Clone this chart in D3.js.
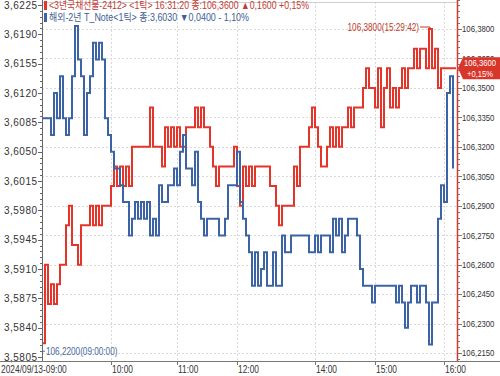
<!DOCTYPE html>
<html lang="ko">
<head>
  <meta charset="utf-8">
  <title>3년국채선물 / 해외-2년 T_Note</title>
  <script src="https://cdn.jsdelivr.net/npm/d3@7"></script>
  <style>
    body { margin: 0; background: #fff; overflow: hidden; }
    svg text { font-family: "Liberation Sans", "Noto Sans CJK KR", sans-serif; font-size: 10px; }
    .axis-text { fill: #333; }
    .grid { stroke: #d9d9d9; stroke-dasharray: 2,2; stroke-width: 1; }
  </style>
</head>
<body>
<div id="chart"></div>
<script>
// 3년국채선물-2412 (오른쪽 축), 1틱 종가 흐름
const redPrice = [
  106.22,106.26,106.24,106.25,106.24,106.25,106.26,106.26,106.28,106.29,
  106.27,106.27,106.26,106.28,106.28,106.28,106.29,106.28,106.29,106.28,
  106.29,106.29,106.29,106.30,106.31,106.30,106.31,106.30,106.31,106.30,
  106.32,106.32,106.32,106.32,106.32,106.32,106.34,106.32,106.32,106.32,
  106.31,106.33,106.32,106.33,106.32,106.33,106.32,106.32,106.33,106.33,
  106.33,106.34,106.33,106.34,106.33,106.33,106.32,106.31,106.30,106.31,
  106.31,106.31,106.31,106.31,106.32,106.30,106.29,106.31,106.30,106.31,
  106.30,106.31,106.31,106.31,106.31,106.31,106.30,106.30,106.29,106.28,
  106.29,106.29,106.29,106.29,106.31,106.30,106.32,106.32,106.32,106.33,
  106.34,106.33,106.32,106.31,106.31,106.32,106.33,106.32,106.33,106.32,
  106.33,106.33,106.34,106.33,106.34,106.34,106.34,106.35,106.36,106.35,
  106.35,106.34,106.36,106.33,106.35,106.36,106.34,106.35,106.34,106.35,
  106.36,106.35,106.36,106.36,106.37,106.36,106.37,106.37,106.36,106.38,
  106.36,106.37,106.35,106.36,106.36,106.36,106.36,106.36
];

// 해외-2년 T_Note (왼쪽 축)
const blueYield = [
  3.609,3.609,3.609,3.607,3.612,3.609,3.614,3.609,3.607,3.609,
  3.614,3.620,3.616,3.614,3.607,3.612,3.614,3.618,3.616,3.618,
  3.616,3.609,3.607,3.605,3.603,3.603,3.601,3.599,3.599,3.595,
  3.597,3.599,3.597,3.599,3.597,3.599,3.595,3.597,3.595,3.601,
  3.599,3.599,3.601,3.601,3.603,3.601,3.605,3.607,3.603,3.603,
  3.601,3.605,3.599,3.597,3.595,3.597,3.597,3.597,3.597,3.595,
  3.595,3.597,3.601,3.601,3.601,3.605,3.599,3.597,3.595,3.593,
  3.589,3.593,3.589,3.591,3.593,3.589,3.589,3.593,3.589,3.589,
  3.595,3.593,3.593,3.595,3.595,3.595,3.595,3.595,3.595,3.593,
  3.593,3.595,3.593,3.595,3.595,3.595,3.593,3.597,3.595,3.597,
  3.593,3.595,3.597,3.597,3.597,3.595,3.591,3.589,3.589,3.589,
  3.587,3.589,3.589,3.589,3.589,3.589,3.589,3.589,3.587,3.589,
  3.587,3.584,3.587,3.589,3.589,3.587,3.589,3.589,3.587,3.582,
  3.587,3.587,3.597,3.601,3.599,3.612,3.614,3.603
];

// x축 라벨과 해당 틱 순번
const xTickLabels = ["2024/09/13-09:00", "10:00", "11:00", "12:00", "14:00", "15:00", "16:00"];
const xTickIndex = [0, 23, 45, 65, 91, 111, 134];

// 축 눈금
const leftTicks = [3.5805, 3.5840, 3.5875, 3.5910, 3.5945, 3.5980, 3.6015, 3.6050, 3.6085, 3.6120, 3.6155, 3.6190, 3.6225];
const rightTicks = [106.215, 106.230, 106.245, 106.260, 106.275, 106.290, 106.305, 106.320, 106.335, 106.350, 106.365, 106.380];

// 범례 / 주석 텍스트
const legendTexts = [
  "<3년국채선물-2412> <1틱> 16:31:20 종:106,3600 ▲0,1600 +0,15%",
  "해외-2년 T_Note<1틱> 종:3,6030 ▼0,0400 - 1,10%"
];
const maxNote = { index: 129, value: 106.38, text: "106,3800(15:29:42)" };
const minNote = { index: 0, value: 106.22, text: "106,2200(09:00:00)" };
const lastChange = "+0,15%";

const W = 500, H = 376;
const plot = { left: 42, right: 457, top: 2, bottom: 361 };
const RED = "#e5352a", BLUE = "#3b63a6";

const svg = d3.select("#chart").append("svg").attr("width", W).attr("height", H);

const x = d3.scaleLinear().domain([0, 138]).range([plot.left, plot.right - 1]);
const yL = d3.scaleLinear().domain([3.5805, 3.6225]).range([357, 5]);
const yR = d3.scaleLinear().domain([106.215, 106.38]).range([353, 29]);

const fmt4 = v => d3.format(".4f")(v).replace(".", ",");

// 원본의 좁은 글꼴 흉내: 가로로 k배 눌러서 그림
function narrow(sel, k) {
  sel.each(function () {
    const t = d3.select(this);
    const tx = +t.attr("x"), ty = +t.attr("y");
    t.attr("x", 0).attr("y", 0).attr("transform", `translate(${tx},${ty}) scale(${k},1)`);
  });
}

// 격자
svg.append("g").selectAll("line").data(rightTicks).enter().append("line")
  .attr("class", "grid")
  .attr("x1", plot.left).attr("x2", plot.right)
  .attr("y1", d => Math.round(yR(d)) + 0.5).attr("y2", d => Math.round(yR(d)) + 0.5);
svg.append("g").selectAll("line").data(xTickIndex.slice(1)).enter().append("line")
  .attr("class", "grid")
  .attr("x1", d => Math.round(x(d)) + 0.5).attr("x2", d => Math.round(x(d)) + 0.5)
  .attr("y1", plot.top).attr("y2", plot.bottom);

// 상단 테두리
svg.append("line").attr("x1", plot.left).attr("x2", plot.right)
  .attr("y1", plot.top + 0.5).attr("y2", plot.top + 0.5).attr("stroke", "#cfcfcf");

// 시리즈
svg.append("clipPath").attr("id", "clip").append("rect")
  .attr("x", plot.left).attr("y", plot.top).attr("width", plot.right - plot.left).attr("height", plot.bottom - plot.top);

const redPts = redPrice.map((v, i) => [i, v]);
redPts.push([138, redPrice[redPrice.length - 1]]);
const bluePts = blueYield.map((v, i) => [i, v]);

const redLine = d3.line().x(d => x(d[0])).y(d => yR(d[1])).curve(d3.curveStepAfter);
const blueLine = d3.line().x(d => x(d[0])).y(d => yL(d[1])).curve(d3.curveStepAfter);

const series = svg.append("g").attr("clip-path", "url(#clip)");
series.append("path").attr("d", redLine(redPts))
  .attr("fill", "none").attr("stroke", RED).attr("stroke-width", 2);
series.append("path").attr("d", blueLine(bluePts))
  .attr("fill", "none").attr("stroke", BLUE).attr("stroke-width", 2);

// 왼쪽 축
const leftAxis = svg.append("g");
leftAxis.append("line").attr("x1", plot.left + 0.5).attr("x2", plot.left + 0.5)
  .attr("y1", 0).attr("y2", plot.bottom).attr("stroke", "#666");
leftAxis.selectAll(".minor").data(d3.range(0, 61)).enter().append("line")
  .attr("x1", plot.left - 2).attr("x2", plot.left)
  .attr("y1", d => Math.round(yL(3.5805 + d * 0.0007)) + 0.5)
  .attr("y2", d => Math.round(yL(3.5805 + d * 0.0007)) + 0.5)
  .attr("stroke", "#666");
leftAxis.selectAll(".major").data(leftTicks).enter().append("line")
  .attr("x1", plot.left - 4).attr("x2", plot.left)
  .attr("y1", d => Math.round(yL(d)) + 0.5).attr("y2", d => Math.round(yL(d)) + 0.5)
  .attr("stroke", "#666");
leftAxis.selectAll("text").data(leftTicks).enter().append("text")
  .attr("class", "axis-text")
  .attr("x", plot.left - 5).attr("y", d => Math.max(yL(d), 5.5)).attr("dy", "0.35em")
  .attr("text-anchor", "end")
  .attr("textLength", 33).attr("lengthAdjust", "spacing")
  .text(fmt4);

// 오른쪽 축 (빨강)
const rightAxis = svg.append("g");
rightAxis.append("line").attr("x1", plot.right + 0.5).attr("x2", plot.right + 0.5)
  .attr("y1", 0).attr("y2", plot.bottom).attr("stroke", "#d23b33").attr("stroke-width", 1.5);
rightAxis.selectAll(".minor").data(d3.range(-1, 61)).enter().append("line")
  .attr("x1", plot.right + 1).attr("x2", plot.right + 3)
  .attr("y1", d => Math.round(yR(106.215 + d * 0.003)) + 0.5)
  .attr("y2", d => Math.round(yR(106.215 + d * 0.003)) + 0.5)
  .attr("stroke", "#777");
rightAxis.selectAll(".major").data(rightTicks).enter().append("line")
  .attr("x1", plot.right + 1).attr("x2", plot.right + 5)
  .attr("y1", d => Math.round(yR(d)) + 0.5).attr("y2", d => Math.round(yR(d)) + 0.5)
  .attr("stroke", "#777");
rightAxis.selectAll("text").data(rightTicks).enter().append("text")
  .attr("class", "axis-text")
  .attr("x", plot.right + 5).attr("y", d => yR(d)).attr("dy", "0.35em")
  .style("font-size", "9.5px")
  .text(fmt4)
  .call(narrow, 0.82);

// 현재가 표시
const lastY = yR(redPrice[redPrice.length - 1]);
svg.append("path")
  .attr("d", `M${plot.right + 1},${lastY} L${plot.right + 6},${lastY - 11} L${W},${lastY - 11} L${W},${lastY + 11} L${plot.right + 6},${lastY + 11} Z`)
  .attr("fill", "#d8352b");
svg.append("text").attr("x", 480).attr("y", lastY - 5).attr("dy", "0.35em")
  .attr("text-anchor", "middle").attr("fill", "#fff").style("font-size", "9px")
  .text(fmt4(redPrice[redPrice.length - 1])).call(narrow, 0.85);
svg.append("text").attr("x", 480).attr("y", lastY + 5.5).attr("dy", "0.35em")
  .attr("text-anchor", "middle").attr("fill", "#fff").style("font-size", "9px")
  .text(lastChange).call(narrow, 0.85);

// x축
const xAxis = svg.append("g");
xAxis.append("line").attr("x1", 0).attr("x2", W)
  .attr("y1", plot.bottom + 0.5).attr("y2", plot.bottom + 0.5).attr("stroke", "#777");
xAxis.selectAll(".tick").data(xTickIndex.slice(1)).enter().append("line")
  .attr("x1", d => Math.round(x(d)) + 0.5).attr("x2", d => Math.round(x(d)) + 0.5)
  .attr("y1", plot.bottom).attr("y2", plot.bottom + 4).attr("stroke", "#777");
xAxis.selectAll("text").data(xTickIndex).enter().append("text")
  .attr("class", "axis-text")
  .attr("x", (d, i) => i === 0 ? 1 : Math.round(x(d)) + 1)
  .attr("y", 373)
  .text((d, i) => xTickLabels[i])
  .call(narrow, 0.84);

// 최고/최저 주석
const mx = x(maxNote.index) + 1, my = yR(maxNote.value) - 2;
svg.append("path").attr("d", `M${mx - 10},${my} L${mx},${my} L${mx},${my + 3}`)
  .attr("fill", "none").attr("stroke", "#c0392b");
svg.append("text").attr("x", mx - 11).attr("y", my).attr("dy", "0.35em")
  .attr("text-anchor", "end").attr("fill", "#c0392b").text(maxNote.text)
  .call(narrow, 0.82);

const nx = x(minNote.index), ny = yR(minNote.value) + 8;
svg.append("line").attr("x1", nx).attr("x2", nx + 3).attr("y1", ny).attr("y2", ny)
  .attr("stroke", "#4a6aa0");
svg.append("text").attr("x", nx + 4).attr("y", ny).attr("dy", "0.35em")
  .attr("fill", "#4a6aa0").text(minNote.text)
  .call(narrow, 0.82);

// 범례
const legendColors = ["#c43a33", "#3d5e96"];
const legendWidths = [260, 200];
const legend = svg.append("g");
legend.selectAll("rect").data(legendTexts).enter().append("rect")
  .attr("x", 44).attr("y", (d, i) => 1 + i * 12).attr("width", 3).attr("height", 9)
  .attr("fill", (d, i) => i === 0 ? RED : BLUE);
legend.selectAll("text").data(legendTexts).enter().append("text")
  .attr("x", 49).attr("y", (d, i) => 5.5 + i * 12).attr("dy", "0.35em")
  .style("font-size", "10.5px")
  .attr("fill", (d, i) => legendColors[i])
  .attr("textLength", (d, i) => legendWidths[i]).attr("lengthAdjust", "spacingAndGlyphs")
  .text(d => d);
</script>
</body>
</html>
